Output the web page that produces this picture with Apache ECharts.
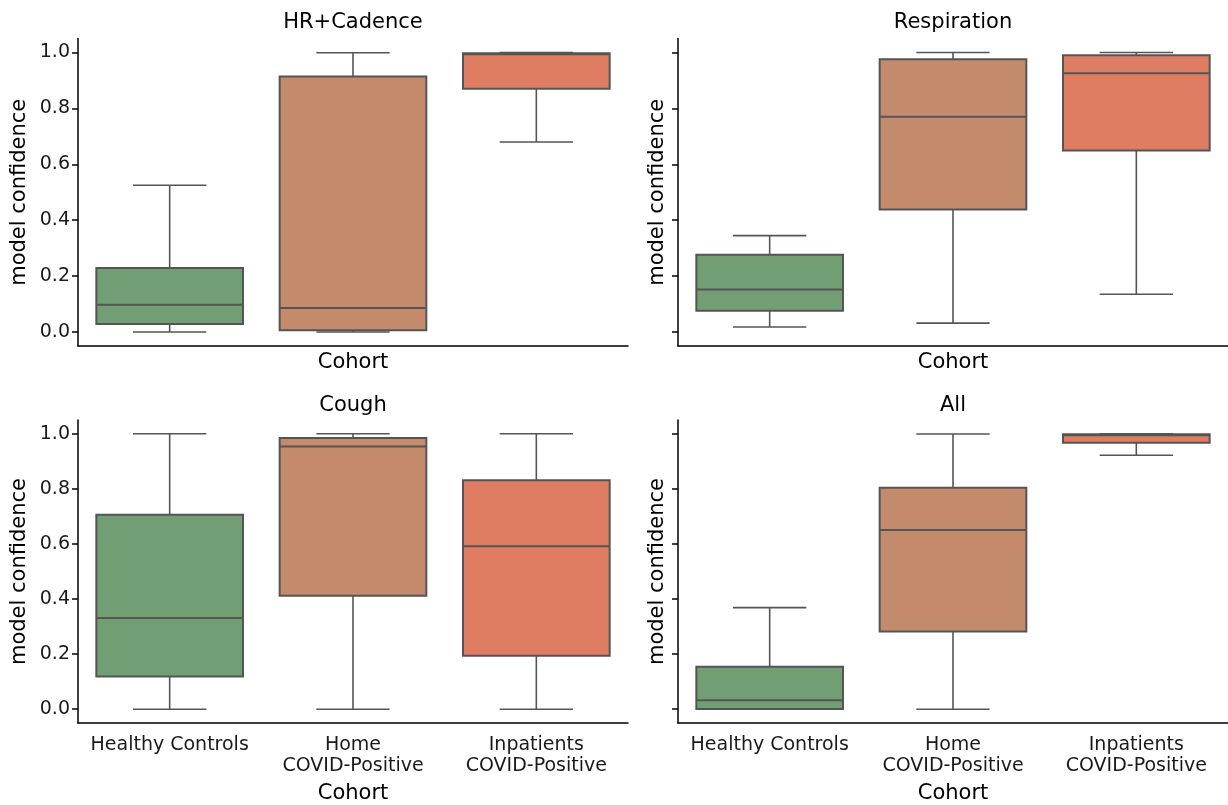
<!DOCTYPE html>
<html><head><meta charset="utf-8">
<script src="https://cdn.jsdelivr.net/npm/echarts@6/dist/echarts.min.js"></script>
<style>html,body{margin:0;padding:0;background:#fff}#c{width:1228px;height:805px}</style>
</head><body><div id="c"></div>
<script>
// Categories and labels
const categories = ['Healthy Controls', 'Home\nCOVID-Positive', 'Inpatients\nCOVID-Positive'];
const panelTitles = ['HR+Cadence', 'Respiration', 'Cough', 'All'];
const yTickValues = [0, 0.2, 0.4, 0.6, 0.8, 1.0];
// Box statistics per cohort: [lower whisker, Q1, median, Q3, upper whisker]
const hrCadence   = [[0.000, 0.029, 0.098, 0.229, 0.525], [0.000, 0.006, 0.086, 0.914, 0.999], [0.680, 0.870, 0.994, 0.997, 1.000]];
const respiration = [[0.018, 0.076, 0.152, 0.276, 0.345], [0.032, 0.438, 0.770, 0.976, 1.000], [0.135, 0.649, 0.926, 0.990, 1.000]];
const cough       = [[0.000, 0.119, 0.331, 0.706, 1.000], [0.000, 0.412, 0.954, 0.985, 1.000], [0.000, 0.194, 0.592, 0.831, 1.000]];
const allSignals  = [[0.000, 0.001, 0.033, 0.154, 0.369], [0.000, 0.282, 0.651, 0.804, 0.999], [0.922, 0.967, 0.995, 0.998, 1.000]];
const cohortColors = ['#719e73', '#c48a6c', '#de7d61'];

const panels = [hrCadence, respiration, cough, allSignals];
const FONT = 'DejaVu Sans';
const EDGE = '#555555';
const grids = [
  {left: 78, top: 38.5, width: 550, height: 307.5},
  {left: 678, top: 38.5, width: 550, height: 307.5},
  {left: 78, top: 420, width: 550, height: 307.5},
  {left: 678, top: 420, width: 550, height: 307.5}
];
const titleTops = [12, 12, 395, 395];

function renderBox(params, api) {
  const k = api.value(0);
  const bw = api.size([1, 0])[0];
  const boxW = bw * 0.8, half = boxW / 2, capHalf = boxW / 4;
  const x = api.coord([k, 0])[0];
  const yMin = api.coord([k, api.value(1)])[1];
  const yQ1 = api.coord([k, api.value(2)])[1];
  const yMed = api.coord([k, api.value(3)])[1];
  const yQ3 = api.coord([k, api.value(4)])[1];
  const yMax = api.coord([k, api.value(5)])[1];
  const ls = {stroke: EDGE, lineWidth: 1.6};
  return {
    type: 'group',
    children: [
      {type: 'rect', shape: {x: x - half, y: yQ3, width: boxW, height: yQ1 - yQ3}, style: {fill: cohortColors[k], stroke: EDGE, lineWidth: 2}},
      {type: 'line', shape: {x1: x, y1: yQ1, x2: x, y2: yMin}, style: ls},
      {type: 'line', shape: {x1: x, y1: yQ3, x2: x, y2: yMax}, style: ls},
      {type: 'line', shape: {x1: x - capHalf, y1: yMin, x2: x + capHalf, y2: yMin}, style: ls},
      {type: 'line', shape: {x1: x - capHalf, y1: yMax, x2: x + capHalf, y2: yMax}, style: ls},
      {type: 'line', shape: {x1: x - half, y1: yMed, x2: x + half, y2: yMed}, style: {stroke: EDGE, lineWidth: 2}}
    ]
  };
}

const option = {
  backgroundColor: '#ffffff',
  animation: false,
  textStyle: {fontFamily: FONT},
  title: panelTitles.map((t, i) => ({
    text: t, left: grids[i].left + grids[i].width / 2, top: titleTops[i], textAlign: 'center', padding: 0,
    textStyle: {fontSize: 21, fontWeight: 'normal', color: '#000', fontFamily: FONT}
  })),
  grid: grids,
  xAxis: grids.map((g, i) => ({
    type: 'category', gridIndex: i, data: categories,
    axisLine: {onZero: false, lineStyle: {color: '#000', width: 1.5}},
    axisTick: {alignWithLabel: true, length: 6, lineStyle: {color: '#000', width: 1.5}},
    axisLabel: {show: i >= 2, interval: 0, fontSize: 19, lineHeight: 21, margin: 12, color: '#1a1a1a', fontFamily: FONT},
    splitLine: {show: false},
    name: 'Cohort', nameLocation: 'middle', nameGap: i < 2 ? 6 : 60,
    nameTextStyle: {fontSize: 21, color: '#000', fontFamily: FONT}
  })),
  yAxis: grids.map((g, i) => ({
    type: 'value', gridIndex: i, min: -0.05, max: 1.05,
    axisLine: {show: true, lineStyle: {color: '#000', width: 1.5}},
    axisTick: {show: true, length: 6, customValues: yTickValues, lineStyle: {color: '#000', width: 1.5}},
    axisLabel: {show: i % 2 === 0, customValues: yTickValues, formatter: v => v.toFixed(1), fontSize: 19, margin: 8, color: '#1a1a1a', fontFamily: FONT},
    splitLine: {show: false},
    name: 'model confidence', nameLocation: 'middle', nameRotate: 90, nameGap: i % 2 === 0 ? 48 : 10,
    nameTextStyle: {fontSize: 21, color: '#000', fontFamily: FONT}
  })),
  series: panels.map((arr, i) => ({
    type: 'custom', xAxisIndex: i, yAxisIndex: i,
    renderItem: renderBox,
    encode: {x: 0, y: [1, 2, 3, 4, 5]},
    data: arr.map((d, k) => [k].concat(d))
  }))
};
echarts.init(document.getElementById('c'), null, {renderer: 'canvas'}).setOption(option);
</script>
</body></html>
